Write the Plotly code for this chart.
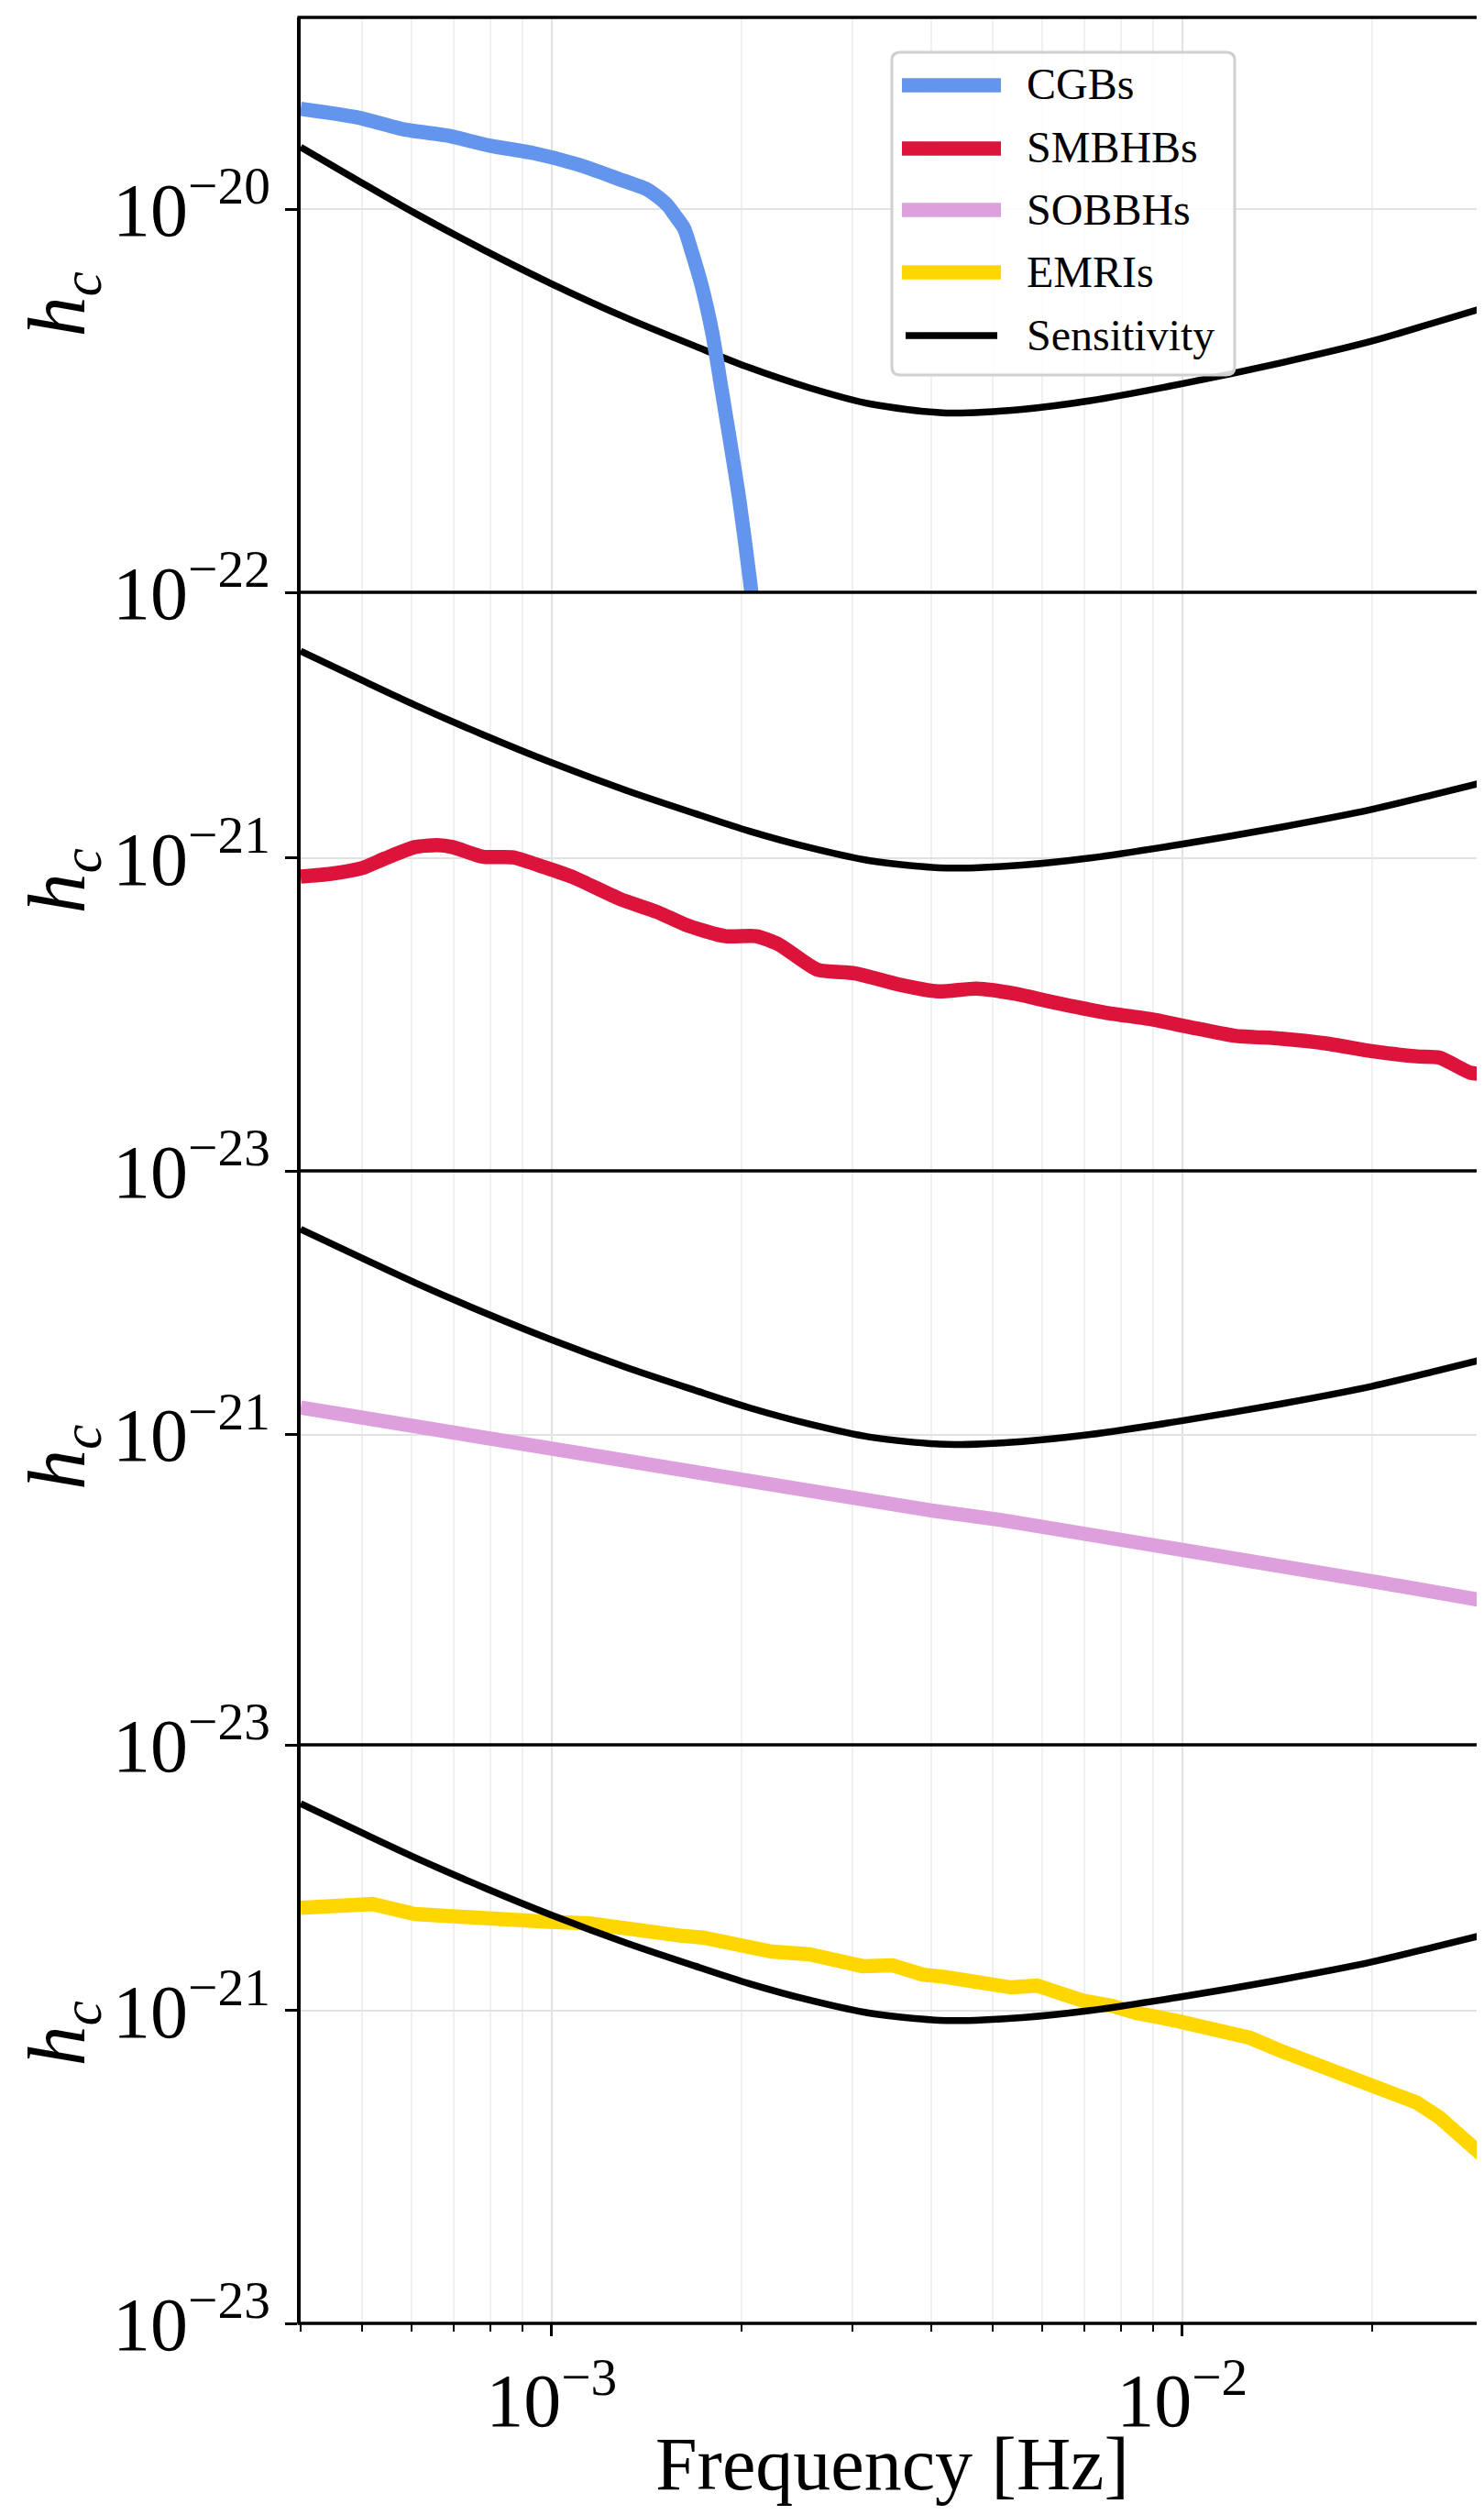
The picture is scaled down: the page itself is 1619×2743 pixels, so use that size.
import numpy as np
import plotly.graph_objects as go
from plotly.subplots import make_subplots

# ---------------- data (log10 units) ----------------
# LISA-like sensitivity curve (same in every panel)
sens_logf = [-3.398, -3.3015, -3.217, -3.109, -3.000, -2.880, -2.772, -2.687, -2.591,
             -2.495, -2.374, -2.254, -2.146, -2.001, -1.844, -1.700, -1.604, -1.522]
sens_loghc = [-19.677, -19.862, -20.021, -20.211, -20.390, -20.570, -20.716, -20.827, -20.933,
              -21.017, -21.064, -21.045, -21.000, -20.912, -20.803, -20.690, -20.597, -20.516]

# Galactic binaries (CGBs)
cgb_logf = [-3.398, -3.306, -3.232, -3.163, -3.098, -3.030, -2.956, -2.892, -2.850, -2.832,
            -2.815, -2.805, -2.790, -2.778, -2.762, -2.745, -2.730, -2.718, -2.703, -2.685, -2.670]
cgb_loghc = [-19.477, -19.523, -19.586, -19.618, -19.669, -19.707, -19.770, -19.845, -19.895, -19.935,
             -19.985, -20.030, -20.100, -20.220, -20.400, -20.650, -20.950, -21.190, -21.500, -21.950, -22.400]

# Massive black hole binaries (SMBHBs)
smbhb_logf = [-3.398, -3.350, -3.301, -3.265, -3.217, -3.181, -3.157, -3.109, -3.061, -3.012,
              -2.964, -2.892, -2.832, -2.784, -2.724, -2.675, -2.639, -2.579, -2.519, -2.447,
              -2.387, -2.326, -2.266, -2.206, -2.121, -2.049, -1.989, -1.917, -1.844, -1.772,
              -1.700, -1.628, -1.592, -1.543, -1.522]
smbhb_loghc = [-21.119, -21.101, -21.065, -21.004, -20.930, -20.918, -20.930, -20.992, -20.996, -21.058,
               -21.126, -21.261, -21.346, -21.432, -21.500, -21.500, -21.554, -21.713, -21.737, -21.811,
               -21.853, -21.835, -21.867, -21.921, -21.989, -22.031, -22.080, -22.136, -22.154, -22.185,
               -22.234, -22.268, -22.276, -22.373, -22.381]

# Stellar-origin black hole binaries (SOBBHs)
sobbh_logf = [-3.398, -3.301, -3.205, -3.109, -3.000, -2.892, -2.795, -2.699, -2.591, -2.495,
              -2.398, -2.289, -2.206, -2.098, -1.989, -1.893, -1.796, -1.688, -1.568, -1.522]
sobbh_loghc = [-20.827, -20.891, -20.957, -21.016, -21.111, -21.178, -21.237, -21.301, -21.360, -21.427,
               -21.490, -21.550, -21.609, -21.680, -21.763, -21.822, -21.881, -21.953, -22.047, -22.071]

# Extreme mass ratio inspirals (EMRIs)
emri_logf = [-3.398, -3.284, -3.217, -3.157, -3.072, -3.012, -2.940, -2.880, -2.856, -2.796,
             -2.760, -2.699, -2.651, -2.591, -2.567, -2.507, -2.459, -2.411, -2.374, -2.314,
             -2.272, -2.230, -2.194, -2.158, -2.109, -2.073, -2.013, -1.953, -1.893, -1.844,
             -1.784, -1.712, -1.676, -1.628, -1.592, -1.555, -1.522]
emri_loghc = [-20.343, -20.319, -20.383, -20.402, -20.414, -20.431, -20.443, -20.485, -20.485, -20.521,
              -20.533, -20.592, -20.623, -20.640, -20.658, -20.716, -20.711, -20.770, -20.786, -20.818,
              -20.852, -20.841, -20.900, -20.936, -20.972, -21.015, -21.062, -21.126, -21.174, -21.257,
              -21.347, -21.459, -21.499, -21.589, -21.684, -21.803, -21.933]

legend_names = ["CGBs", "SMBHBs", "SOBBHs", "EMRIs", "Sensitivity"]
colors = ["#6495ED", "#DC143C", "#DDA0DD", "#FFD700", "#000000"]

x_tickvals = [1e-3, 1e-2]
x_ticktext = ["10<sup>−3</sup>", "10<sup>−2</sup>"]
x_minor_vals = [4e-4, 5e-4, 6e-4, 7e-4, 8e-4, 9e-4,
                2e-3, 3e-3, 4e-3, 5e-3, 6e-3, 7e-3, 8e-3, 9e-3, 2e-2, 3e-2]
top_tickvals = [1e-22, 1e-20]
top_ticktext = ["10<sup>−22</sup>", "10<sup>−20</sup>"]
low_tickvals = [1e-23, 1e-21]
low_ticktext = ["10<sup>−23</sup>", "10<sup>−21</sup>"]

# ---------------- figure ----------------
# The page body adds an 8 px margin, so the figure is drawn 8 px smaller
# and all page-pixel positions below are shifted by OFF.
OFF = 8
W, H = 1619 - OFF, 2743 - OFF
ML, MR, MT, MB = 328 - OFF, 1, 19 - OFF, 209
plot_w = W - ML - MR
plot_h = H - MT - MB
FONT = "Liberation Serif"
TICK_SIZE = 82

def lin(v):
    return list(10 ** np.asarray(v, dtype=float))

def px_x(p):
    return (p - OFF - ML) / plot_w

def px_y(p):
    return (H - MB - (p - OFF)) / plot_h

fig = make_subplots(rows=4, cols=1, shared_xaxes=True, vertical_spacing=0)

LW_C = 15.5
LW_K = 7.5
sens_x, sens_y = lin(sens_logf), lin(sens_loghc)
sens_line = dict(color=colors[4], width=LW_K, shape="spline", smoothing=0.8)

# panel 1: sensitivity drawn first, CGBs on top
fig.add_trace(go.Scatter(x=sens_x, y=sens_y, mode="lines", name=legend_names[4],
                         line=sens_line), row=1, col=1)
fig.add_trace(go.Scatter(x=lin(cgb_logf), y=lin(cgb_loghc), mode="lines", name=legend_names[0],
                         line=dict(color=colors[0], width=LW_C, shape="spline", smoothing=0.6)),
              row=1, col=1)
# panel 2
fig.add_trace(go.Scatter(x=lin(smbhb_logf), y=lin(smbhb_loghc), mode="lines", name=legend_names[1],
                         line=dict(color=colors[1], width=LW_C, shape="spline", smoothing=0.6)),
              row=2, col=1)
fig.add_trace(go.Scatter(x=sens_x, y=sens_y, mode="lines", name=legend_names[4],
                         line=sens_line), row=2, col=1)
# panel 3
fig.add_trace(go.Scatter(x=lin(sobbh_logf), y=lin(sobbh_loghc), mode="lines", name=legend_names[2],
                         line=dict(color=colors[2], width=LW_C)), row=3, col=1)
fig.add_trace(go.Scatter(x=sens_x, y=sens_y, mode="lines", name=legend_names[4],
                         line=sens_line), row=3, col=1)
# panel 4
fig.add_trace(go.Scatter(x=lin(emri_logf), y=lin(emri_loghc), mode="lines", name=legend_names[3],
                         line=dict(color=colors[3], width=LW_C)), row=4, col=1)
fig.add_trace(go.Scatter(x=sens_x, y=sens_y, mode="lines", name=legend_names[4],
                         line=sens_line), row=4, col=1)

# panel boundaries in page pixels (top of page = 0)
bounds = [19, 646, 1277, 1903, 2534]

SPINE = 3.5
for i in range(4):
    r = i + 1
    dom = [px_y(bounds[i + 1]), px_y(bounds[i])]
    bottom = (r == 4)
    fig.update_xaxes(
        type="log", range=[np.log10(4e-4), np.log10(3e-2)],
        showline=False,
        tickmode="array", tickvals=x_tickvals, ticktext=x_ticktext,
        showticklabels=bottom,
        ticks="outside" if bottom else "", ticklen=13, tickwidth=2.5, tickcolor="black",
        showgrid=True, gridcolor="#e2e2e2", gridwidth=2,
        minor=dict(tickmode="array", tickvals=x_minor_vals,
                   ticks="outside" if bottom else "", ticklen=8, tickwidth=2, tickcolor="black",
                   showgrid=True, gridcolor="#f0f0f0", gridwidth=2),
        tickfont=dict(family=FONT, size=TICK_SIZE, color="black"),
        zeroline=False,
        row=r, col=1)
    fig.update_yaxes(
        type="log",
        range=[-22, -19] if r == 1 else [-23, np.log10(5e-20)],
        domain=dom,
        showline=True, linecolor="black", linewidth=SPINE, mirror=True,
        tickmode="array",
        tickvals=top_tickvals if r == 1 else low_tickvals,
        ticktext=top_ticktext if r == 1 else low_ticktext,
        ticks="outside", ticklen=13, tickwidth=3, tickcolor="black",
        showgrid=True, gridcolor="#e2e2e2", gridwidth=2,
        tickfont=dict(family=FONT, size=TICK_SIZE, color="black"),
        zeroline=False,
        row=r, col=1)
    # y-axis label h_c
    fig.add_annotation(text="<i>h</i><sub><i>c</i></sub>", xref="paper", yref="paper",
                       x=px_x(68), y=(dom[0] + dom[1]) / 2,
                       xanchor="center", yanchor="middle", textangle=-90, showarrow=False,
                       font=dict(family=FONT, size=88, color="black"))

# horizontal spines (top/bottom of every panel)
pad = (SPINE / 2) / plot_w
for b in bounds:
    fig.add_shape(type="line", xref="paper", yref="paper",
                  x0=-2 * pad, x1=1 + 2 * pad, y0=px_y(b), y1=px_y(b),
                  line=dict(color="black", width=SPINE), layer="above")

# x-axis label
fig.add_annotation(text="Frequency [Hz]", xref="paper", yref="paper",
                   x=0.5, y=px_y(2687), xanchor="center", yanchor="middle",
                   showarrow=False, font=dict(family=FONT, size=82, color="black"))

# ---------------- legend (drawn as a framed box in panel 1) ----------------
LX0, LX1, LY0, LY1, RAD = 973, 1347, 57, 409, 9
def pt(x, y):
    return f"{px_x(x):.6f},{px_y(y):.6f}"
box_path = ("M " + pt(LX0 + RAD, LY0) + " L " + pt(LX1 - RAD, LY0) +
            " Q " + pt(LX1, LY0) + " " + pt(LX1, LY0 + RAD) +
            " L " + pt(LX1, LY1 - RAD) +
            " Q " + pt(LX1, LY1) + " " + pt(LX1 - RAD, LY1) +
            " L " + pt(LX0 + RAD, LY1) +
            " Q " + pt(LX0, LY1) + " " + pt(LX0, LY1 - RAD) +
            " L " + pt(LX0, LY0 + RAD) +
            " Q " + pt(LX0, LY0) + " " + pt(LX0 + RAD, LY0) + " Z")
fig.add_shape(type="path", xref="paper", yref="paper", path=box_path,
              fillcolor="rgba(255,255,255,0.85)", line=dict(color="#d0d0d0", width=3),
              layer="above")
item_y = [93, 162, 229, 297, 366]
item_w = [LW_C, LW_C, LW_C, LW_C, LW_K]
for name, col, yy, lw in zip(legend_names, colors, item_y, item_w):
    x_start, x_end = (984, 1092) if lw == LW_C else (988, 1088)
    fig.add_shape(type="line", xref="paper", yref="paper",
                  x0=px_x(x_start), x1=px_x(x_end), y0=px_y(yy), y1=px_y(yy),
                  line=dict(color=col, width=lw), layer="above")
    fig.add_annotation(text=name, xref="paper", yref="paper",
                       x=px_x(1118), y=px_y(yy - 1), xanchor="left", yanchor="middle",
                       showarrow=False, font=dict(family=FONT, size=48, color="black"))

fig.update_layout(
    width=W, height=H,
    margin=dict(l=ML, r=MR, t=MT, b=MB, autoexpand=False),
    paper_bgcolor="white", plot_bgcolor="white",
    showlegend=False,
)

fig.write_html("out.html")
